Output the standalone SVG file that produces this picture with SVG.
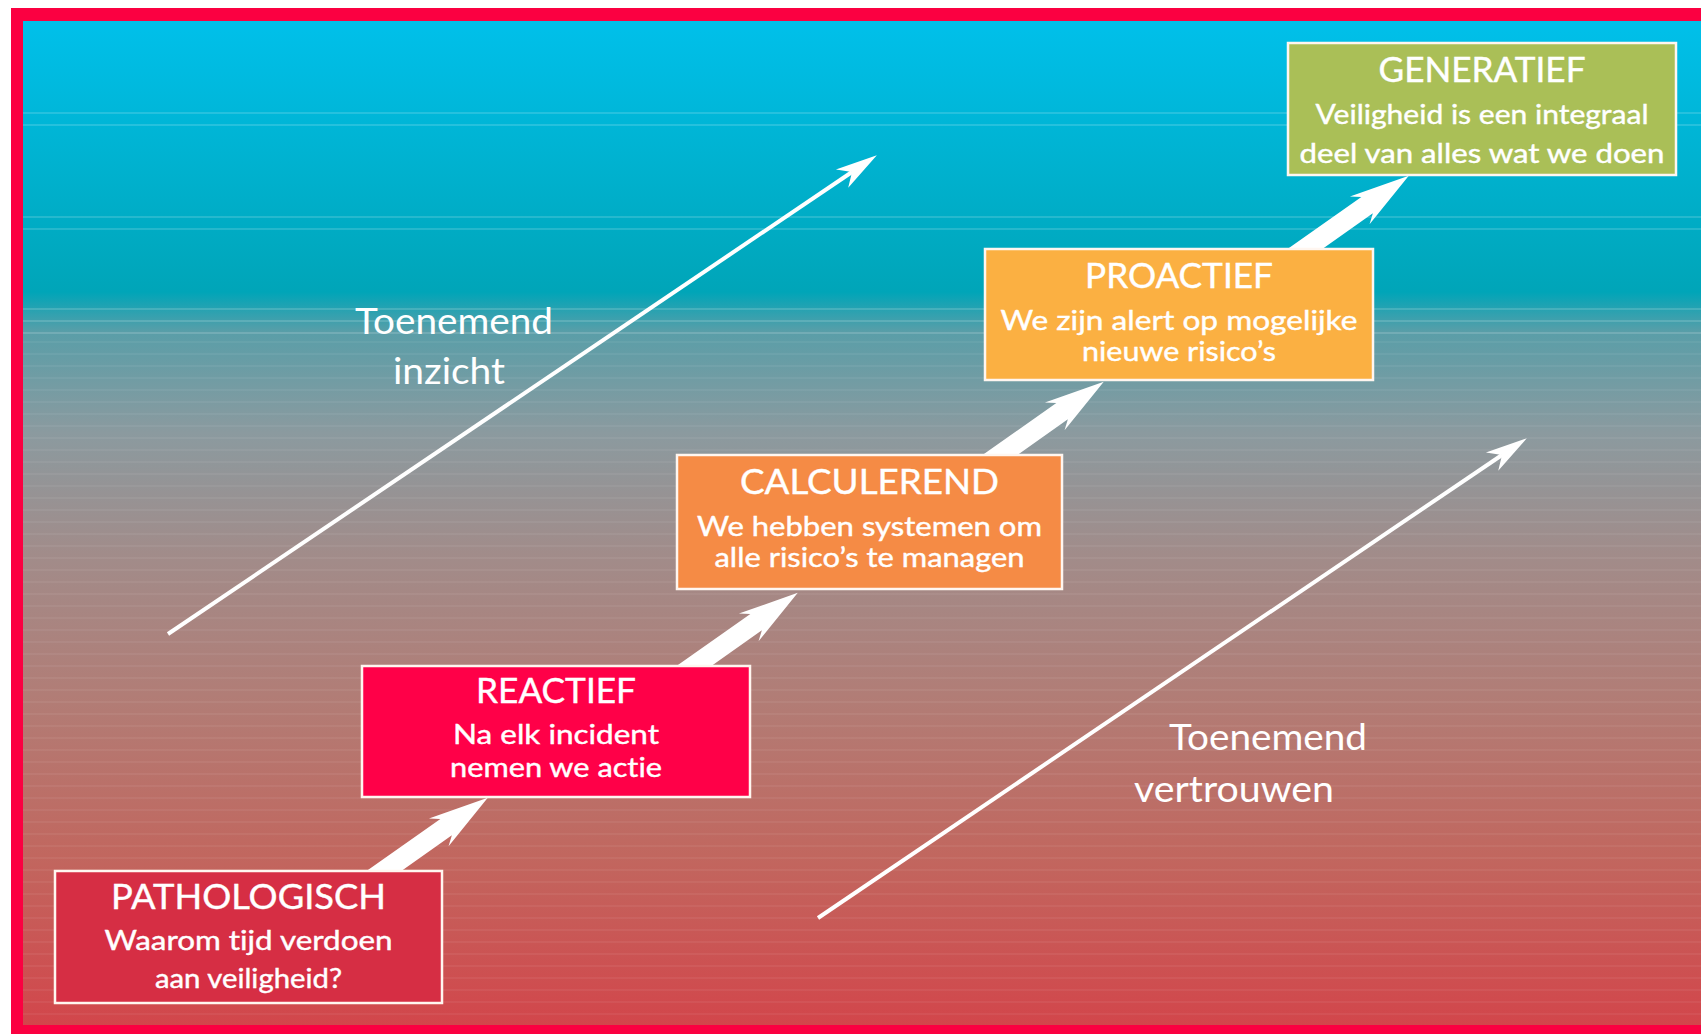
<svg xmlns="http://www.w3.org/2000/svg" width="1701" height="1034" viewBox="0 0 1701 1034">
<defs>
<linearGradient id="bg" x1="0" y1="21" x2="0" y2="1025" gradientUnits="userSpaceOnUse">
<stop offset="0" stop-color="#00C0EA"/>
<stop offset="0.27" stop-color="#00A5B8"/>
<stop offset="0.31" stop-color="#5A9EA8"/>
<stop offset="0.41" stop-color="#8B9A9F"/>
<stop offset="0.53" stop-color="#A18C8A"/>
<stop offset="0.68" stop-color="#B27C75"/>
<stop offset="0.83" stop-color="#C1675F"/>
<stop offset="1" stop-color="#D2464B"/>
</linearGradient>
<pattern id="stripes" x="0" y="0" width="20" height="12" patternUnits="userSpaceOnUse">
<rect x="0" y="5" width="20" height="2" fill="#fff" opacity="0.05"/>
</pattern>
<marker id="thinHead" markerUnits="userSpaceOnUse" markerWidth="50" markerHeight="30" viewBox="-15 -15 50 30" refX="0" refY="0" orient="auto" overflow="visible">
<path d="M-12,-11 L30,0 L-12,11 L0,0 Z" fill="#fff"/>
</marker>
<path id="fatArrow" d="M-20,-10 L76,-10 L67,-17 L127,0 L67,17 L76,10 L-20,10 Z" fill="#fff"/>
<style>
.box{stroke:#FFF6F0;stroke-width:2.5}
.t{font-family:Lato,"Open Sans","Liberation Sans",sans-serif;fill:#fff;text-anchor:middle;font-variant-ligatures:none;stroke:#fff;stroke-width:0.4}
.h{font-size:34px}
.s{font-size:26px}
.lbl{font-family:Lato,"Open Sans","Liberation Sans",sans-serif;fill:#fff;font-size:37px;font-variant-ligatures:none}
.thin{stroke:#fff;stroke-width:4;fill:none}
.stripe{stroke:#fff;stroke-width:2;opacity:0.15}
</style>
</defs>

<g id="frame">
<rect x="0" y="0" width="1701" height="1034" fill="#fff"/>
<rect x="11" y="8" width="1700" height="1040" fill="#FB0041"/>
<rect x="23" y="21" width="1690" height="1004" fill="url(#bg)"/>
<rect x="23" y="340" width="1690" height="685" fill="url(#stripes)"/>
<line class="stripe" x1="23" y1="113" x2="1701" y2="113"/>
<line class="stripe" x1="23" y1="125" x2="1701" y2="125"/>
<line class="stripe" x1="23" y1="217" x2="1701" y2="217"/>
<line class="stripe" x1="23" y1="229" x2="1701" y2="229"/>
<line class="stripe" x1="23" y1="309" x2="1701" y2="309"/>
<line class="stripe" x1="23" y1="321" x2="1701" y2="321"/>
<line class="stripe" x1="23" y1="333" x2="1701" y2="333"/>
</g>

<g id="connectors">
<line class="thin" x1="168" y1="634" x2="852" y2="172" marker-end="url(#thinHead)"/>
<line class="thin" x1="818" y1="918" x2="1502" y2="455" marker-end="url(#thinHead)"/>
<use href="#fatArrow" transform="translate(384,871) rotate(-35.2)"/>
<use href="#fatArrow" transform="translate(694,666) rotate(-35.2)"/>
<use href="#fatArrow" transform="translate(1000,455) rotate(-35.2)"/>
<use href="#fatArrow" transform="translate(1305,249) rotate(-35.2)"/>
</g>

<g id="pathologisch">
<rect class="box" x="55" y="871" width="387" height="132" fill="#D62E44"/>
<text class="t h" x="248.5" y="909" textLength="275" lengthAdjust="spacingAndGlyphs">PATHOLOGISCH</text>
<text class="t s" x="248.5" y="950" textLength="288" lengthAdjust="spacingAndGlyphs">Waarom tijd verdoen</text>
<text class="t s" x="248.5" y="988" textLength="187" lengthAdjust="spacingAndGlyphs">aan veiligheid?</text>
</g>

<g id="reactief">
<rect class="box" x="362" y="666" width="388" height="131" fill="#FF0048"/>
<text class="t h" x="556" y="703" textLength="160" lengthAdjust="spacingAndGlyphs">REACTIEF</text>
<text class="t s" x="556" y="744" textLength="206" lengthAdjust="spacingAndGlyphs">Na elk incident</text>
<text class="t s" x="556" y="777" textLength="212" lengthAdjust="spacingAndGlyphs">nemen we actie</text>
</g>

<g id="calculerend">
<rect class="box" x="677" y="455" width="385" height="134" fill="#F58B45"/>
<text class="t h" x="869.5" y="494" textLength="259" lengthAdjust="spacingAndGlyphs">CALCULEREND</text>
<text class="t s" x="869.5" y="536" textLength="345" lengthAdjust="spacingAndGlyphs">We hebben systemen om</text>
<text class="t s" x="869.5" y="567" textLength="310" lengthAdjust="spacingAndGlyphs">alle risico’s te managen</text>
</g>

<g id="proactief">
<rect class="box" x="985" y="249" width="388" height="131" fill="#FBB042"/>
<text class="t h" x="1179" y="288" textLength="188" lengthAdjust="spacingAndGlyphs">PROACTIEF</text>
<text class="t s" x="1179" y="330" textLength="357" lengthAdjust="spacingAndGlyphs">We zijn alert op mogelijke</text>
<text class="t s" x="1179" y="361" textLength="194" lengthAdjust="spacingAndGlyphs">nieuwe risico’s</text>
</g>

<g id="generatief">
<rect class="box" x="1288" y="43" width="388" height="132" fill="#AABF57"/>
<text class="t h" x="1482" y="82" textLength="207" lengthAdjust="spacingAndGlyphs">GENERATIEF</text>
<text class="t s" x="1482" y="124" textLength="333" lengthAdjust="spacingAndGlyphs">Veiligheid is een integraal</text>
<text class="t s" x="1482" y="163" textLength="365" lengthAdjust="spacingAndGlyphs">deel van alles wat we doen</text>
</g>

<g id="label-inzicht">
<text class="lbl" x="355" y="334" textLength="198" lengthAdjust="spacingAndGlyphs">Toenemend</text>
<text class="lbl" x="393" y="384" textLength="112" lengthAdjust="spacingAndGlyphs">inzicht</text>
</g>

<g id="label-vertrouwen">
<text class="lbl" x="1169" y="750" textLength="198" lengthAdjust="spacingAndGlyphs">Toenemend</text>
<text class="lbl" x="1134" y="802" textLength="200" lengthAdjust="spacingAndGlyphs">vertrouwen</text>
</g>
</svg>
